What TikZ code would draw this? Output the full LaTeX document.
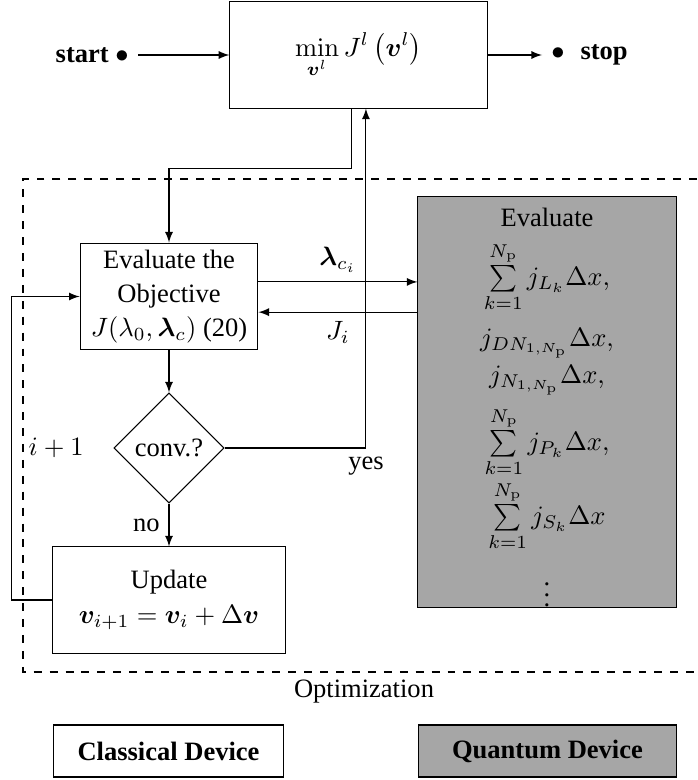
\documentclass[tikz,border=0pt]{standalone}
\usepackage[no-math]{fontspec}
\setmainfont{Liberation Serif}
\usepackage{amsmath}
\usepackage{amsfonts}
\usepackage{bm}
\usetikzlibrary{shapes, arrows}

\definecolor{qgray}{gray}{0.65}

\begin{document}
\begin{tikzpicture}[x=0.377pt, y=-0.377pt, >=latex,
		blk/.style={draw, align=center, inner sep=2pt},
		qblk/.style={blk, fill=qgray},
		qterm/.style={inner sep=0.5pt},
		decide/.style={draw, diamond, aspect=1, inner sep=1pt, minimum size=41.5pt}]
		\useasboundingbox (0,0) rectangle (697,780);

		% outer loop
		\node[blk, minimum width=97pt, minimum height=40pt] (minbox) at (358.5,55) {$\displaystyle\min_{\bm{v}^l} J^l\left(\bm{v}^l\right)$};
		\node[anchor=east] (start) at (138,55) {\textbf{start} $\bullet$};
		\node[anchor=west] (stop) at (542,55) {$\bullet$\hspace{6pt}\textbf{stop}};

		% classical part
		\node[blk, minimum width=67pt, minimum height=40.3pt, font=\fontsize{10}{12.8}\selectfont] (evalobj) at (169,296.5) {Evaluate the\\ Objective\\ $J(\lambda_0,\bm{\lambda}_c)$ (20)};
		\node[decide] (conv) at (169,448) {conv.?};
		\node[blk, minimum width=87.5pt, minimum height=40pt, font=\fontsize{10}{13}\selectfont] (update) at (169,600) {Update\\ $\bm{v}_{i+1}=\bm{v}_i+\Delta\bm{v}$};

		% quantum part
		\node[qblk, minimum width=97.3pt, minimum height=154.6pt] (quantum) at (547,402) {};
		\node[qterm] (qtitle) at (547,217) {Evaluate};
		\node[qterm] (qsumL) at (547,277) {$\sum\limits_{k=1}^{N_\mathrm{p}} j_{L_k}\Delta x,$};
		\node[qterm] (qjDN) at (547,343) {$j_{DN_{1,N_\mathrm{p}}}\Delta x,$};
		\node[qterm] (qjN) at (547,380) {$j_{N_{1,N_\mathrm{p}}}\Delta x,$};
		\node[qterm] (qsumP) at (547,442) {$\sum\limits_{k=1}^{N_\mathrm{p}} j_{P_k}\Delta x,$};
		\node[qterm] (qsumS) at (547,516) {$\sum\limits_{k=1}^{N_\mathrm{p}} j_{S_k}\Delta x$};
		\node[qterm] (qdots) at (547,587) {$\vdots$};

		\draw[dashed] (697,179) -- (23,179) -- (23,672) -- (697,672);
		\node (optlabel) at (364,692) {Optimization};

		% legend
		\node[blk, minimum width=87pt, minimum height=19.6pt] (classical) at (168.5,751) {\textbf{Classical Device}};
		\node[qblk, minimum width=97pt, minimum height=19.6pt] (quantumdev) at (547.5,751) {\textbf{Quantum Device}};

		\coordinate (mindown) at ([xshift=-2.8pt]minbox.south);
		\coordinate (minup) at ([xshift=2.8pt]minbox.south);
		\coordinate (lamout) at ([yshift=5.5pt]evalobj.east);
		\coordinate (jin) at ([yshift=-5.9pt]evalobj.east);

		\draw[->] (start.east) -- (minbox.west);
		\draw[->] (minbox.east) -- (stop.west);
		\draw[->] (mindown) -- ++(0,60) -| (evalobj.north);
		\draw[->] (evalobj.south) -- (conv.north);
		\draw[->] (conv.east) -| node[pos=0.5, below] {yes} (minup);
		\draw[->] (conv.south) -- node[midway, left] {no} (update.north);
		\draw[->] (update.west) -- ++(-41,0) |- node[pos=0.25, right=3pt] {$i+1$} (evalobj.west);
		\draw[->] (lamout) -- node[midway, above] {$\bm{\lambda}_{c_i}$} (lamout -| quantum.west);
		\draw[->] (jin -| quantum.west) -- node[midway, below] {$J_i$} (jin);
	\end{tikzpicture}
\end{document}
